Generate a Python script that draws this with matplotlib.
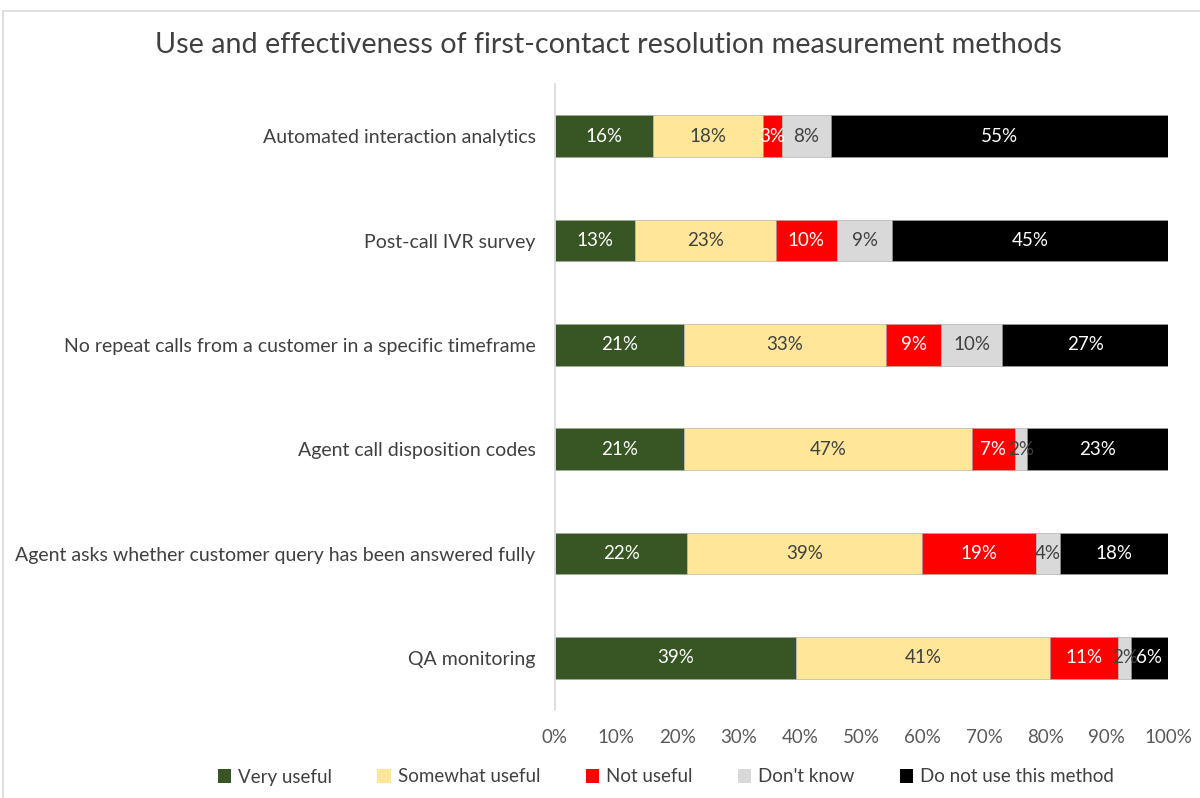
import matplotlib
matplotlib.use("Agg")
import matplotlib.pyplot as plt
import numpy as np
from matplotlib.patches import Rectangle

plt.rcParams["font.family"] = ["Lato", "DejaVu Sans"]

categories = [
    "Automated interaction analytics",
    "Post-call IVR survey",
    "No repeat calls from a customer in a specific timeframe",
    "Agent call disposition codes",
    "Agent asks whether customer query has been answered fully",
    "QA monitoring",
]
series_names = ["Very useful", "Somewhat useful", "Not useful", "Don't know",
                "Do not use this method"]
very_useful = [16, 13, 21, 21, 22, 39]
somewhat_useful = [18, 23, 33, 47, 39, 41]
not_useful = [3, 10, 9, 7, 19, 11]
dont_know = [8, 9, 10, 2, 4, 2]
do_not_use = [55, 45, 27, 23, 18, 6]

colors = ["#375623", "#FFE699", "#FF0000", "#D9D9D9", "#000000"]
text_colors = ["white", "#404040", "white", "#404040", "white"]

data = np.array([very_useful, somewhat_useful, not_useful, dont_know, do_not_use],
                dtype=float)
# 100% stacked: each row normalised to its own total
shares = data / data.sum(axis=0)

fig = plt.figure(figsize=(12, 7.98), dpi=100)
ax = fig.add_axes([555 / 1200, 1 - 710 / 798, 613 / 1200, 626 / 798])

fig.patches.append(Rectangle((3 / 1200, -0.1), 1.2, 1.1 - 11 / 798,
                             transform=fig.transFigure, fill=False,
                             edgecolor="#D9D9D9", linewidth=1.2))

y = np.arange(len(categories))
left = np.zeros(len(categories))
for i, name in enumerate(series_names):
    ax.barh(y, shares[i], left=left, height=0.4, color=colors[i], label=name,
            edgecolor="#A6A6A6", linewidth=0.4)
    for j in range(len(categories)):
        ax.text(left[j] + shares[i][j] / 2, y[j], f"{int(data[i][j])}%",
                ha="center", va="center", fontsize=13.5, color=text_colors[i])
    left += shares[i]

ax.set_ylim(len(categories) - 0.5, -0.5)
ax.set_xlim(0, 1)
ax.set_yticks(y)
ax.set_yticklabels(categories, fontsize=14, color="#404040")
ax.set_xticks(np.linspace(0, 1, 11))
ax.set_xticklabels([f"{v}%" for v in range(0, 101, 10)], fontsize=13.5,
                   color="#595959")
ax.tick_params(axis="both", length=0)
ax.tick_params(axis="y", pad=14)
ax.tick_params(axis="x", pad=14)
for side in ["top", "right", "bottom"]:
    ax.spines[side].set_visible(False)
ax.spines["left"].set_color("#D9D9D9")
ax.spines["left"].set_linewidth(1.2)

fig.text(0.507, 1 - 45 / 798,
         "Use and effectiveness of first-contact resolution measurement methods",
         ha="center", va="center", fontsize=20.7, color="#404040")

leg = fig.legend(loc="center", bbox_to_anchor=(0.555, 1 - 777 / 798), ncol=5,
                 frameon=False, fontsize=13.5, handlelength=0.7, handleheight=0.7,
                 columnspacing=2.4, handletextpad=0.4)
for t in leg.get_texts():
    t.set_color("#404040")
for h in leg.legend_handles:
    h.set_linewidth(0)

fig.savefig("out.png", dpi=100)
